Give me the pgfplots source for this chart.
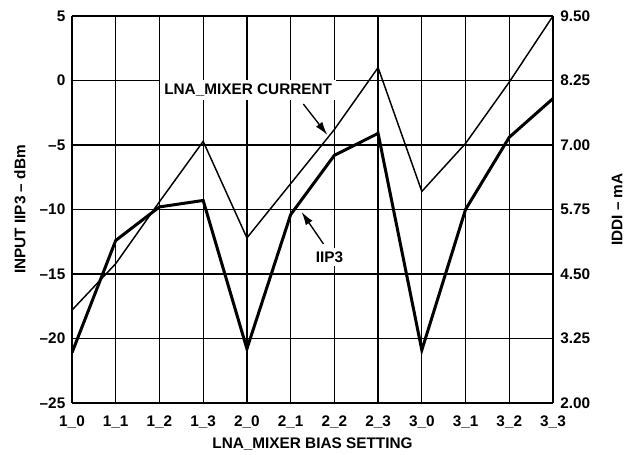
\documentclass[border=0pt]{standalone}
\usepackage{pgfplots}
\pgfplotsset{compat=1.18}
\usepackage{fontspec}
\setmainfont{Liberation Sans}
\usetikzlibrary{arrows.meta}
\begin{document}
\begin{tikzpicture}
\pgfplotsset{
  every axis/.append style={
    scale only axis, width=360.75pt, height=290.25pt,
    xmin=0, xmax=11,
    font=\fontsize{11.5}{13}\selectfont\bfseries,
    tick label style={font=\fontsize{11.5}{13}\selectfont\bfseries},
    label style={font=\fontsize{11.5}{13}\selectfont\bfseries},
    major tick length=0pt,
    axis line style={line width=1.3pt},
  }
}
\begin{axis}[
  ymin=-25, ymax=5,
  ytick={-25,-20,-15,-10,-5,0,5},
  yticklabels={–25,–20,–15,–10,–5,0,5},
  xtick={0,...,11},
  xticklabels={1\_0,1\_1,1\_2,1\_3,2\_0,2\_1,2\_2,2\_3,3\_0,3\_1,3\_2,3\_3},
  grid=major,
  grid style={black, line width=1pt},
  axis y line*=left,
  yticklabel style={xshift=-1.5pt},
  xticklabel style={yshift=-6pt},
  xlabel={LNA\_MIXER BIAS SETTING},
  ylabel={INPUT IIP3 – dBm},
  xlabel style={at={(axis description cs:0.5,0)}, anchor=center, yshift=-30.5pt},
  ylabel style={at={(axis description cs:0,0.5)}, anchor=center, yshift=39pt},
]
\addplot[black, line width=2.25pt, line join=miter] coordinates {
  (0,-21.1) (1,-12.4) (2,-9.8) (3,-9.3) (4,-20.8) (5,-10.4)
  (6,-5.8) (7,-4.1) (8,-20.9) (9,-10.0) (10,-4.4) (11,-1.4)
};
\node[fill=white, inner sep=3pt] at (axis cs:4.03,-0.74) {LNA\_MIXER CURRENT};
\node[fill=white, inner sep=3pt] at (axis cs:5.89,-13.68) {IIP3};
\draw[line width=1pt, -{Latex[length=10pt,width=6pt]}] (axis cs:5.29,-1.82) -- (axis cs:5.84,-4.22);
\draw[line width=1pt, -{Latex[length=10pt,width=6pt]}] (axis cs:5.75,-12.67) -- (axis cs:5.25,-10.19);
\end{axis}
\begin{axis}[
  ymin=2, ymax=9.5,
  ytick={2,3.25,4.5,5.75,7,8.25,9.5},
  yticklabels={2.00,3.25,4.50,5.75,7.00,8.25,9.50},
  axis y line*=right,
  axis x line=none,
  yticklabel style={xshift=2pt},
  ylabel={IDDI – mA},
  ylabel style={at={(axis description cs:1,0.5)}, anchor=center, yshift=-48pt},
]
\addplot[black, line width=1.1pt, line join=miter] coordinates {
  (0,3.8) (1,4.7) (2,5.9) (3,7.07) (4,5.2) (5,6.25)
  (6,7.3) (7,8.5) (8,6.1) (9,7.03) (10,8.22) (11,9.5)
};
\end{axis}
\path ([xshift=-54pt,yshift=-34.5pt]current axis.south west) rectangle ([xshift=56.25pt,yshift=12pt]current axis.north east);
\end{tikzpicture}
\end{document}
